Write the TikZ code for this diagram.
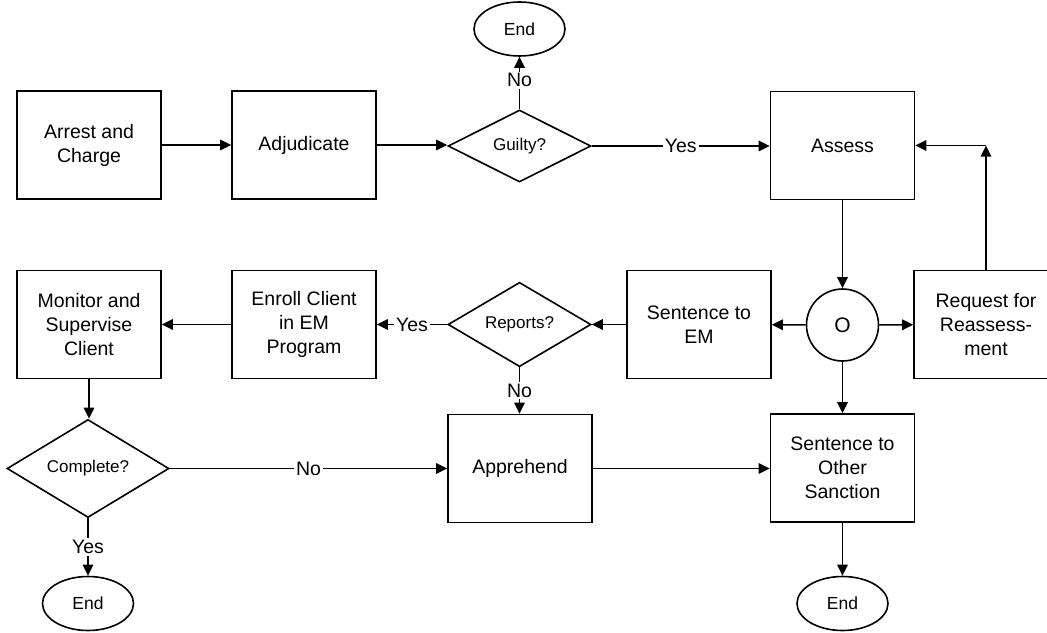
\documentclass[tikz,border=0pt]{standalone}
\usepackage{fontspec}
\setmainfont{Liberation Sans}
\usetikzlibrary{shapes.geometric,arrows.meta}
\begin{document}
\begin{tikzpicture}[x=1pt,y=-1pt,line width=1.6pt,
  arr/.style={-{Triangle[length=11pt,width=10.5pt]}},
  box/.style={draw,minimum width=144pt,minimum height=108pt,inner sep=0pt,align=center,font=\fontsize{19.5}{24}\selectfont},
  dec/.style={draw,diamond,minimum width=143pt,minimum height=72pt,inner sep=0pt,font=\fontsize{17}{20}\selectfont},
  term/.style={draw,ellipse,minimum width=91pt,minimum height=54pt,inner sep=0pt,font=\fontsize{17.5}{20}\selectfont},
  conn/.style={draw,circle,minimum size=72pt,inner sep=0pt,font=\fontsize{21}{24}\selectfont},
  lbl/.style={fill=white,inner sep=2pt,font=\fontsize{19.5}{22}\selectfont}]
\useasboundingbox (0,0) rectangle (1047,632);
\clip (0,0) rectangle (1047,632);
\node[box] (arrest) at (89,145) {Arrest and\\Charge};
\node[box] (adj) at (304,145) {Adjudicate};
\node[dec] (guilty) at (519.5,146) {Guilty?};
\node[term] (endt) at (519.5,29) {End};
\node[box] (assess) at (842.5,145.5) {Assess};
\node[conn] (o) at (842.5,325) {O};
\node[box] (req) at (986,324.5) {Request for\\Reassess-\\ment};
\node[box] (sem) at (699,324.5) {Sentence to\\EM};
\node[dec] (rep) at (519.5,324.5) {Reports?};
\node[box] (enroll) at (304,324.5) {Enroll Client\\in EM\\Program};
\node[box] (mon) at (89,324.5) {Monitor and\\Supervise\\Client};
\node[dec,minimum width=162pt,minimum height=71pt] (comp) at (88,468.5) {Complete?};
\node[term] (endbl) at (88,603.5) {End};
\node[box] (appr) at (520,468.5) {Apprehend};
\node[box] (other) at (842.5,468) {Sentence to\\Other\\Sanction};
\node[term] (endbr) at (842.5,603.5) {End};
\coordinate (corner) at (986,145.5);

\draw[arr] (arrest) -- (adj);
\draw[arr] (adj.east) -- (adj.east -| guilty.west);
\draw[arr] (guilty.north) -- node[lbl,pos=0.55]{No} (endt.south);
\draw[arr] (guilty.east) -- node[lbl]{Yes} (guilty.east -| assess.west);
\draw[arr] (assess) -- (o);
\draw[arr] (o) -- (sem);
\draw[arr] (o) -- (req);
\draw[arr] (o.south) -- (other.north);
\draw[arr] (req.north) -- (corner);
\draw[arr] (corner) -- (assess.east);
\draw[arr] (sem.west) -- (sem.west -| rep.east);
\draw[arr] (rep.west) -- node[lbl]{Yes} (rep.west -| enroll.east);
\draw[arr] (rep.south) -- node[lbl]{No} (rep.south |- appr.north);
\draw[arr] (enroll) -- (mon);
\draw[arr] (mon.south) -- (mon.south |- comp.north);
\draw[arr] (comp.east) -- node[lbl]{No} (comp.east -| appr.west);
\draw[arr] (comp.south) -- node[lbl]{Yes} (endbl.north);
\draw[arr] (appr.east) -- (appr.east -| other.west);
\draw[arr] (other) -- (endbr);
\end{tikzpicture}
\end{document}
